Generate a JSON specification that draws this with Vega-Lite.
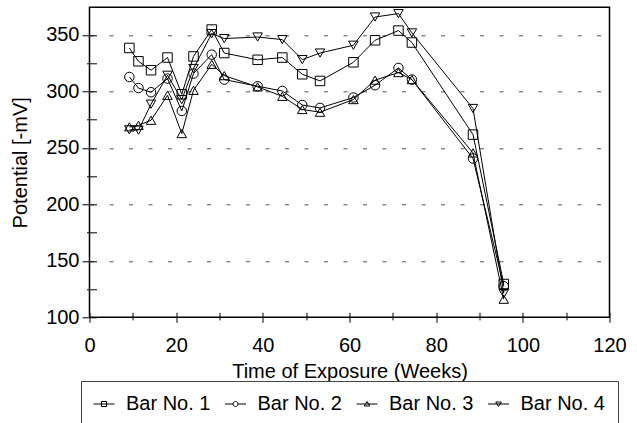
{
  "$schema": "https://vega.github.io/schema/vega-lite/v6.json",
  "width": 520,
  "height": 310,
  "autosize": {"type": "none"},
  "padding": {"left": 89.5, "top": 7.3, "right": 27.5, "bottom": 105.7},
  "background": "white",
  "config": {
    "font": "Liberation Sans",
    "view": {"stroke": "black", "strokeWidth": 1.5},
    "axis": {"labelFont": "Liberation Sans", "titleFont": "Liberation Sans", "labelColor": "black", "titleColor": "black", "titleFontWeight": "normal", "tickColor": "black", "domain": false}
  },
  "data": {"values": [
    {"series": "Bar No. 1", "week": 9.2, "potential": 338.5},
    {"series": "Bar No. 1", "week": 11.3, "potential": 326.7},
    {"series": "Bar No. 1", "week": 14.2, "potential": 318.8},
    {"series": "Bar No. 1", "week": 18.0, "potential": 330.0},
    {"series": "Bar No. 1", "week": 21.3, "potential": 297.5},
    {"series": "Bar No. 1", "week": 24.0, "potential": 331.0},
    {"series": "Bar No. 1", "week": 28.2, "potential": 354.8},
    {"series": "Bar No. 1", "week": 31.1, "potential": 334.0},
    {"series": "Bar No. 1", "week": 38.8, "potential": 328.0},
    {"series": "Bar No. 1", "week": 44.5, "potential": 330.0},
    {"series": "Bar No. 1", "week": 49.1, "potential": 315.2},
    {"series": "Bar No. 1", "week": 53.2, "potential": 309.3},
    {"series": "Bar No. 1", "week": 60.9, "potential": 325.8},
    {"series": "Bar No. 1", "week": 65.9, "potential": 345.3},
    {"series": "Bar No. 1", "week": 71.3, "potential": 353.9},
    {"series": "Bar No. 1", "week": 74.4, "potential": 343.3},
    {"series": "Bar No. 1", "week": 88.5, "potential": 261.8},
    {"series": "Bar No. 1", "week": 95.6, "potential": 129.5},
    {"series": "Bar No. 2", "week": 9.2, "potential": 312.8},
    {"series": "Bar No. 2", "week": 11.3, "potential": 303.0},
    {"series": "Bar No. 2", "week": 14.2, "potential": 299.3},
    {"series": "Bar No. 2", "week": 18.0, "potential": 311.4},
    {"series": "Bar No. 2", "week": 21.3, "potential": 282.7},
    {"series": "Bar No. 2", "week": 24.0, "potential": 315.8},
    {"series": "Bar No. 2", "week": 28.2, "potential": 332.6},
    {"series": "Bar No. 2", "week": 31.1, "potential": 310.5},
    {"series": "Bar No. 2", "week": 38.8, "potential": 304.6},
    {"series": "Bar No. 2", "week": 44.5, "potential": 300.4},
    {"series": "Bar No. 2", "week": 49.1, "potential": 288.0},
    {"series": "Bar No. 2", "week": 53.2, "potential": 285.4},
    {"series": "Bar No. 2", "week": 60.9, "potential": 294.6},
    {"series": "Bar No. 2", "week": 65.9, "potential": 305.5},
    {"series": "Bar No. 2", "week": 71.3, "potential": 320.8},
    {"series": "Bar No. 2", "week": 74.4, "potential": 310.5},
    {"series": "Bar No. 2", "week": 88.5, "potential": 240.6},
    {"series": "Bar No. 2", "week": 95.6, "potential": 127.5},
    {"series": "Bar No. 3", "week": 9.2, "potential": 268.6},
    {"series": "Bar No. 3", "week": 11.3, "potential": 270.0},
    {"series": "Bar No. 3", "week": 14.2, "potential": 274.5},
    {"series": "Bar No. 3", "week": 18.0, "potential": 296.6},
    {"series": "Bar No. 3", "week": 21.3, "potential": 262.7},
    {"series": "Bar No. 3", "week": 24.0, "potential": 301.0},
    {"series": "Bar No. 3", "week": 28.2, "potential": 324.0},
    {"series": "Bar No. 3", "week": 31.1, "potential": 314.0},
    {"series": "Bar No. 3", "week": 38.8, "potential": 304.0},
    {"series": "Bar No. 3", "week": 44.5, "potential": 295.7},
    {"series": "Bar No. 3", "week": 49.1, "potential": 284.0},
    {"series": "Bar No. 3", "week": 53.2, "potential": 281.6},
    {"series": "Bar No. 3", "week": 60.9, "potential": 292.8},
    {"series": "Bar No. 3", "week": 65.9, "potential": 310.0},
    {"series": "Bar No. 3", "week": 71.3, "potential": 316.7},
    {"series": "Bar No. 3", "week": 74.4, "potential": 310.5},
    {"series": "Bar No. 3", "week": 88.5, "potential": 245.6},
    {"series": "Bar No. 3", "week": 95.6, "potential": 116.0},
    {"series": "Bar No. 4", "week": 9.2, "potential": 266.0},
    {"series": "Bar No. 4", "week": 11.3, "potential": 265.7},
    {"series": "Bar No. 4", "week": 14.2, "potential": 288.7},
    {"series": "Bar No. 4", "week": 18.0, "potential": 314.3},
    {"series": "Bar No. 4", "week": 21.3, "potential": 292.8},
    {"series": "Bar No. 4", "week": 24.0, "potential": 320.3},
    {"series": "Bar No. 4", "week": 28.2, "potential": 351.2},
    {"series": "Bar No. 4", "week": 31.1, "potential": 346.8},
    {"series": "Bar No. 4", "week": 38.8, "potential": 348.2},
    {"series": "Bar No. 4", "week": 44.5, "potential": 345.9},
    {"series": "Bar No. 4", "week": 49.1, "potential": 328.2},
    {"series": "Bar No. 4", "week": 53.2, "potential": 334.0},
    {"series": "Bar No. 4", "week": 60.9, "potential": 340.9},
    {"series": "Bar No. 4", "week": 65.9, "potential": 365.9},
    {"series": "Bar No. 4", "week": 71.3, "potential": 368.9},
    {"series": "Bar No. 4", "week": 74.4, "potential": 351.8},
    {"series": "Bar No. 4", "week": 88.5, "potential": 284.9},
    {"series": "Bar No. 4", "week": 95.6, "potential": 121.0}
  ]},
  "encoding": {
    "x": {
      "field": "week", "type": "quantitative",
      "scale": {"domain": [0, 120], "nice": false, "zero": false},
      "axis": {
        "title": "Time of Exposure (Weeks)",
        "titleFontSize": 20, "labelFontSize": 20,
        "values": [0, 10, 20, 30, 40, 50, 60, 70, 80, 90, 100, 110, 120],
        "labelExpr": "datum.value % 20 === 0 ? datum.label : ''",
        "offset": -5,
        "tickSize": {"condition": {"test": "datum.value % 20 === 0", "value": 10}, "value": 7.6},
        "tickWidth": 1,
        "labelPadding": 13,
        "titlePadding": 6,
        "grid": false,
        "labelFlush": false
      }
    },
    "y": {
      "field": "potential", "type": "quantitative",
      "scale": {"domain": [100, 374.5], "nice": false, "zero": false},
      "axis": {
        "title": "Potential [-mV]",
        "titleFontSize": 20, "labelFontSize": 20,
        "values": [100, 125, 150, 175, 200, 225, 250, 275, 300, 325, 350],
        "labelExpr": "datum.value % 50 === 0 ? datum.label : ''",
        "offset": -7,
        "tickSize": {"condition": {"test": "datum.value % 50 === 0", "value": 14.5}, "value": 10},
        "tickWidth": 1,
        "labelPadding": 3,
        "titlePadding": 15,
        "grid": true,
        "gridColor": "#555555",
        "gridDash": [4, 15.5],
        "gridWidth": 1,
        "gridOpacity": {"condition": {"test": "datum.value % 50 === 0 && datum.value > 100", "value": 1}, "value": 0},
        "labelFlush": false
      }
    }
  },
  "layer": [
    {
      "mark": {"type": "line", "color": "black", "strokeWidth": 1},
      "encoding": {"detail": {"field": "series", "type": "nominal"}}
    },
    {
      "mark": {"type": "point", "filled": false, "color": "black", "strokeWidth": 1, "size": 90, "opacity": 1},
      "encoding": {
        "shape": {
          "field": "series", "type": "nominal",
          "scale": {"domain": ["Bar No. 1", "Bar No. 2", "Bar No. 3", "Bar No. 4"], "range": ["square", "circle", "triangle-up", "triangle-down"]},
          "legend": null
        }
      }
    },
    {
      "mark": {"type": "point", "filled": false, "color": "black", "strokeWidth": 1, "size": 100, "opacity": 0},
      "encoding": {
        "shape": {
          "field": "series", "type": "nominal",
          "scale": {"domain": ["Bar No. 1", "Bar No. 2", "Bar No. 3", "Bar No. 4"], "range": [
            "M-2.1,0H2.1M-0.5,-0.5H0.5V0.5H-0.5Z",
            "M-2.1,0H-0.5M0.5,0H2.1M0.5,0A0.5,0.5,0,1,1,-0.5,0A0.5,0.5,0,1,1,0.5,0Z",
            "M-2.1,0H2.1M0,-0.5L0.55,0.4H-0.55Z",
            "M-2.1,0H2.1M0,0.5L0.55,-0.4H-0.55Z"
          ]},
          "legend": {
            "title": null,
            "orient": "none",
            "legendX": -8.5,
            "legendY": 373.7,
            "direction": "horizontal",
            "strokeColor": "#444444",
            "padding": 13,
            "labelFontSize": 20,
            "labelFont": "Liberation Sans",
            "labelColor": "black",
            "symbolSize": 100,
            "symbolOpacity": 1,
            "symbolStrokeColor": "black",
            "symbolStrokeWidth": 1,
            "symbolFillColor": "transparent",
            "labelOffset": 12,
            "columnPadding": 11.5
          }
        }
      }
    }
  ],
  "resolve": {"scale": {"shape": "independent"}, "legend": {"shape": "independent"}}
}
